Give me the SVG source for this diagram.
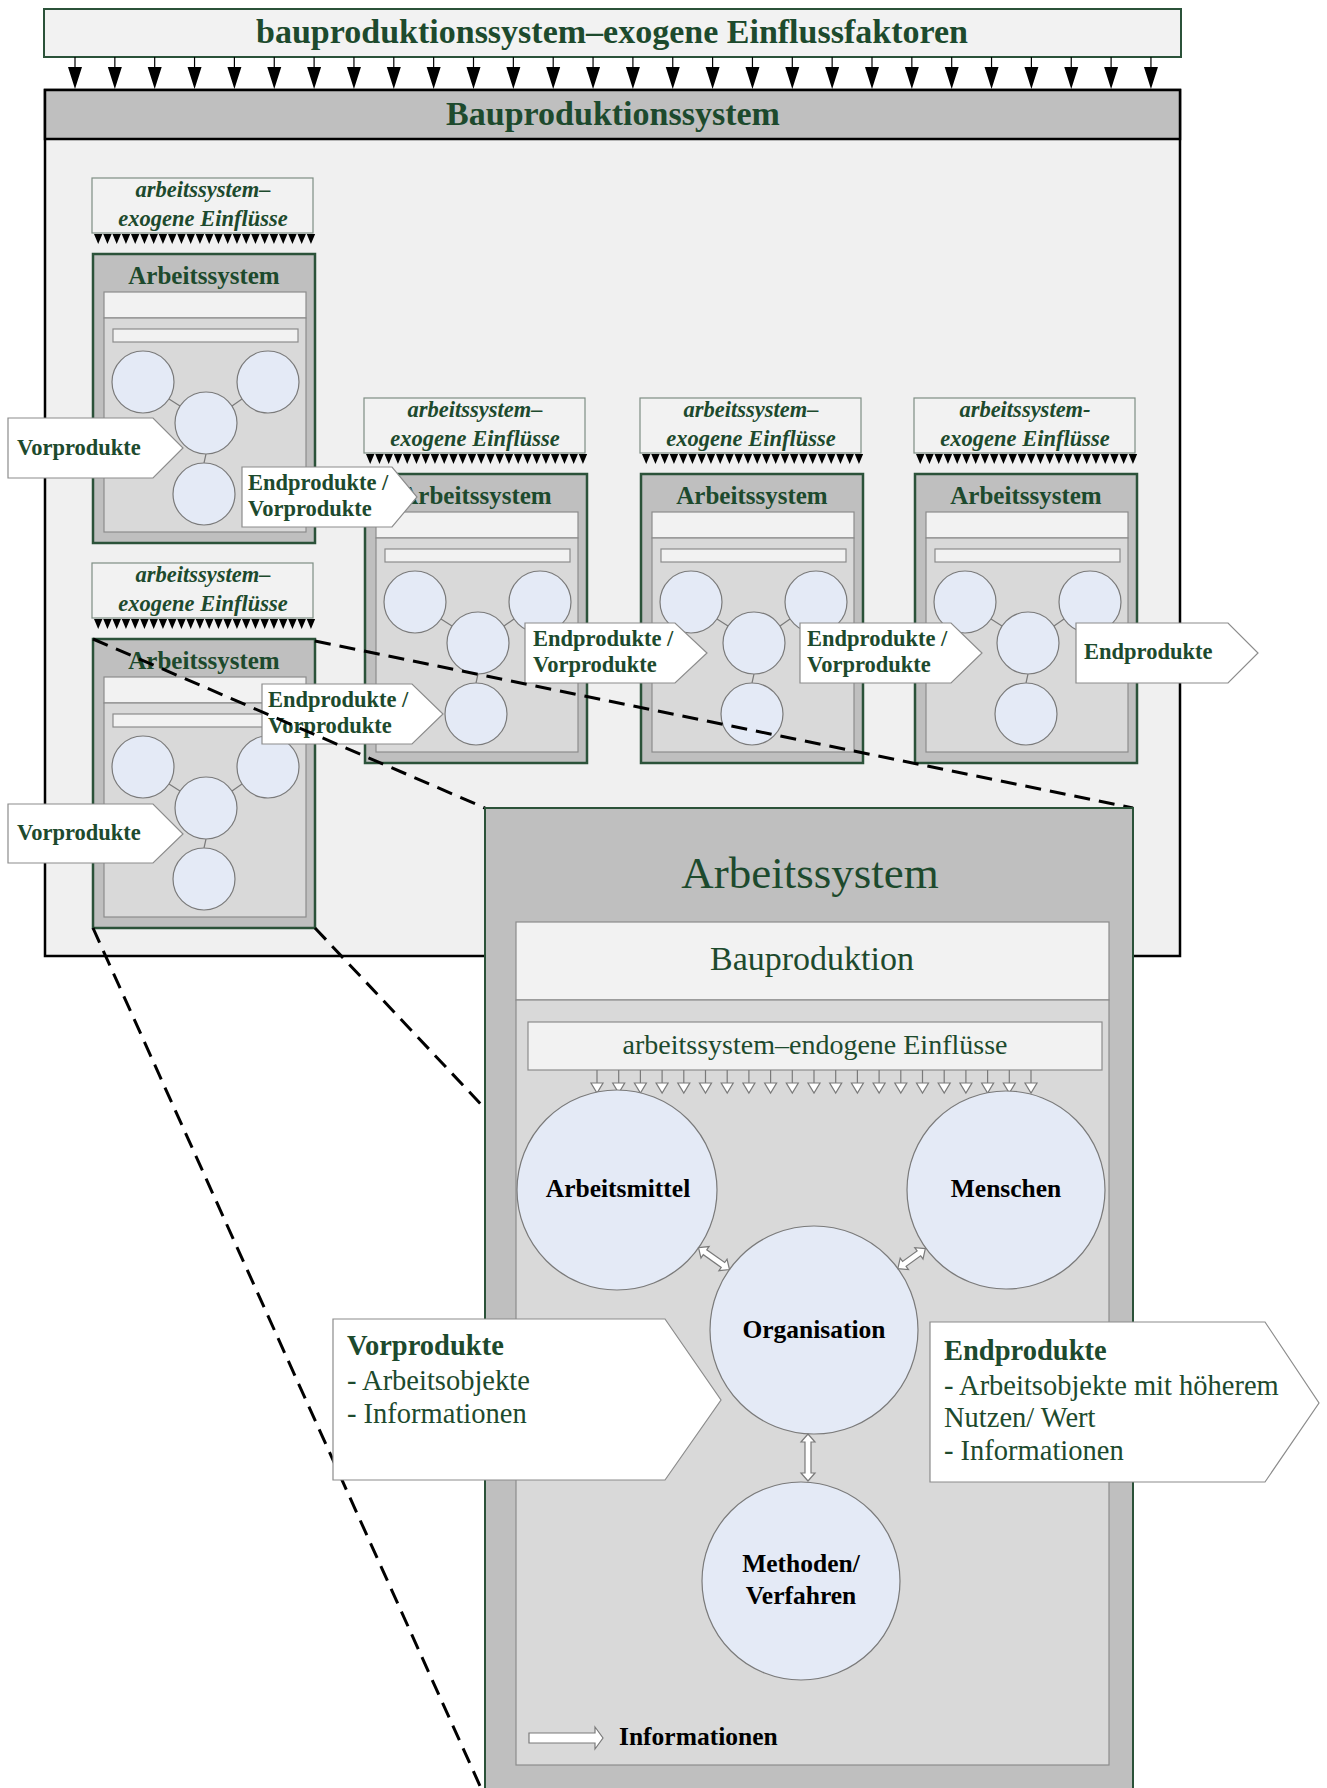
<svg xmlns="http://www.w3.org/2000/svg" width="1327" height="1788" viewBox="0 0 1327 1788">
<style>
text{font-family:'Liberation Serif','Times New Roman',serif}
.gt{fill:#1d4a2d}
.t1{font-size:34px;font-weight:bold;fill:#1d4a2d;text-anchor:middle}
.te{font-size:22.5px;font-weight:bold;font-style:italic;fill:#1d4a2d;text-anchor:middle}
.ta{font-size:25px;font-weight:bold;fill:#1d4a2d;text-anchor:middle}
.tl{font-size:22.5px;font-weight:bold;fill:#1d4a2d}
.tc{font-size:25.5px;font-weight:bold;fill:#000;text-anchor:middle}
.tb{font-size:28.5px;fill:#1d4a2d}
.tbb{font-size:28.5px;font-weight:bold;fill:#1d4a2d}
.exo{fill:#f2f2f2;stroke:#7e8e84;stroke-width:1.2}
.as{fill:#bfbfbf;stroke:#2b5239;stroke-width:2.5}
.lt{fill:#f2f2f2;stroke:#8c8c8c;stroke-width:1.2}
.in{fill:#d9d9d9;stroke:#8c8c8c;stroke-width:1.2}
.c{fill:#e4eaf6;stroke:#7a7a7a;stroke-width:1.2}
.cl{stroke:#7a7a7a;stroke-width:1.2;fill:none}
.tri{fill:#000}
.ar{fill:#fff;stroke:#8c8c8c;stroke-width:1.2}
.da{fill:#fff;stroke:#7a7a7a;stroke-width:1.2}
.dash{stroke:#000;stroke-width:3;stroke-dasharray:16 9;fill:none}
</style>

<g id="top-influences">
<rect x="44" y="9" width="1137" height="48" fill="#f2f2f2" stroke="#2b5239" stroke-width="2"/>
<text class="t1" x="612" y="43">bauproduktionssystem–exogene Einflussfaktoren</text>
<path stroke="#000" stroke-width="1.2" d="M75,57v10m39.85,-10v10m39.85,-10v10m39.85,-10v10m39.85,-10v10m39.85,-10v10m39.85,-10v10m39.85,-10v10m39.85,-10v10m39.85,-10v10m39.85,-10v10m39.85,-10v10m39.85,-10v10m39.85,-10v10m39.85,-10v10m39.85,-10v10m39.85,-10v10m39.85,-10v10m39.85,-10v10m39.85,-10v10m39.85,-10v10m39.85,-10v10m39.85,-10v10m39.85,-10v10m39.85,-10v10m39.85,-10v10m39.85,-10v10m39.85,-10v10"/>
<path class="tri" d="M68,67h14l-7,22z m39.85,0h14l-7,22z m39.85,0h14l-7,22z m39.85,0h14l-7,22z m39.85,0h14l-7,22z m39.85,0h14l-7,22z m39.85,0h14l-7,22z m39.85,0h14l-7,22z m39.85,0h14l-7,22z m39.85,0h14l-7,22z m39.85,0h14l-7,22z m39.85,0h14l-7,22z m39.85,0h14l-7,22z m39.85,0h14l-7,22z m39.85,0h14l-7,22z m39.85,0h14l-7,22z m39.85,0h14l-7,22z m39.85,0h14l-7,22z m39.85,0h14l-7,22z m39.85,0h14l-7,22z m39.85,0h14l-7,22z m39.85,0h14l-7,22z m39.85,0h14l-7,22z m39.85,0h14l-7,22z m39.85,0h14l-7,22z m39.85,0h14l-7,22z m39.85,0h14l-7,22z m39.85,0h14l-7,22z"/>
</g>

<g id="bauproduktionssystem">
<rect x="45" y="90" width="1135" height="866" fill="#f0f0f0" stroke="#000" stroke-width="2.5"/>
<rect x="45" y="90" width="1135" height="49" fill="#bfbfbf" stroke="#000" stroke-width="2.5"/>
<text class="t1" x="613" y="125">Bauproduktionssystem</text>
</g>

<g id="exo1" transform="translate(93,254)">
<rect class="exo" x="-1" y="-76" width="221" height="55"/>
<text class="te" x="110" y="-57">arbeitssystem–</text>
<text class="te" x="110" y="-28">exogene Einflüsse</text>
<path class="tri" d="M1,-20h8.4l-4.2,10z m9.25,0h8.4l-4.2,10z m9.25,0h8.4l-4.2,10z m9.25,0h8.4l-4.2,10z m9.25,0h8.4l-4.2,10z m9.25,0h8.4l-4.2,10z m9.25,0h8.4l-4.2,10z m9.25,0h8.4l-4.2,10z m9.25,0h8.4l-4.2,10z m9.25,0h8.4l-4.2,10z m9.25,0h8.4l-4.2,10z m9.25,0h8.4l-4.2,10z m9.25,0h8.4l-4.2,10z m9.25,0h8.4l-4.2,10z m9.25,0h8.4l-4.2,10z m9.25,0h8.4l-4.2,10z m9.25,0h8.4l-4.2,10z m9.25,0h8.4l-4.2,10z m9.25,0h8.4l-4.2,10z m9.25,0h8.4l-4.2,10z m9.25,0h8.4l-4.2,10z m9.25,0h8.4l-4.2,10z m9.25,0h8.4l-4.2,10z m9.25,0h8.4l-4.2,10z"/>
</g>
<g id="as1" transform="translate(93,254)">
<rect class="as" width="222" height="289"/>
<text class="ta" x="111" y="30">Arbeitssystem</text>
<rect class="lt" x="11" y="38" width="202" height="26"/>
<rect class="in" x="11" y="64" width="202" height="214"/>
<rect class="lt" x="20" y="75" width="185" height="13"/>
<path class="cl" d="M76,145L87,152M149,145L139,152M113,200L111,209"/>
<circle class="c" cx="50" cy="128" r="31"/><circle class="c" cx="175" cy="128" r="31"/><circle class="c" cx="113" cy="169" r="31"/><circle class="c" cx="111" cy="240" r="31"/>
</g>

<g id="exo2" transform="translate(365,474)">
<rect class="exo" x="-1" y="-76" width="221" height="55"/>
<text class="te" x="110" y="-57">arbeitssystem–</text>
<text class="te" x="110" y="-28">exogene Einflüsse</text>
<path class="tri" d="M1,-20h8.4l-4.2,10z m9.25,0h8.4l-4.2,10z m9.25,0h8.4l-4.2,10z m9.25,0h8.4l-4.2,10z m9.25,0h8.4l-4.2,10z m9.25,0h8.4l-4.2,10z m9.25,0h8.4l-4.2,10z m9.25,0h8.4l-4.2,10z m9.25,0h8.4l-4.2,10z m9.25,0h8.4l-4.2,10z m9.25,0h8.4l-4.2,10z m9.25,0h8.4l-4.2,10z m9.25,0h8.4l-4.2,10z m9.25,0h8.4l-4.2,10z m9.25,0h8.4l-4.2,10z m9.25,0h8.4l-4.2,10z m9.25,0h8.4l-4.2,10z m9.25,0h8.4l-4.2,10z m9.25,0h8.4l-4.2,10z m9.25,0h8.4l-4.2,10z m9.25,0h8.4l-4.2,10z m9.25,0h8.4l-4.2,10z m9.25,0h8.4l-4.2,10z m9.25,0h8.4l-4.2,10z"/>
</g>
<g id="as2" transform="translate(365,474)">
<rect class="as" width="222" height="289"/>
<text class="ta" x="111" y="30">Arbeitssystem</text>
<rect class="lt" x="11" y="38" width="202" height="26"/>
<rect class="in" x="11" y="64" width="202" height="214"/>
<rect class="lt" x="20" y="75" width="185" height="13"/>
<path class="cl" d="M76,145L87,152M149,145L139,152M113,200L111,209"/>
<circle class="c" cx="50" cy="128" r="31"/><circle class="c" cx="175" cy="128" r="31"/><circle class="c" cx="113" cy="169" r="31"/><circle class="c" cx="111" cy="240" r="31"/>
</g>

<g id="exo3" transform="translate(641,474)">
<rect class="exo" x="-1" y="-76" width="221" height="55"/>
<text class="te" x="110" y="-57">arbeitssystem–</text>
<text class="te" x="110" y="-28">exogene Einflüsse</text>
<path class="tri" d="M1,-20h8.4l-4.2,10z m9.25,0h8.4l-4.2,10z m9.25,0h8.4l-4.2,10z m9.25,0h8.4l-4.2,10z m9.25,0h8.4l-4.2,10z m9.25,0h8.4l-4.2,10z m9.25,0h8.4l-4.2,10z m9.25,0h8.4l-4.2,10z m9.25,0h8.4l-4.2,10z m9.25,0h8.4l-4.2,10z m9.25,0h8.4l-4.2,10z m9.25,0h8.4l-4.2,10z m9.25,0h8.4l-4.2,10z m9.25,0h8.4l-4.2,10z m9.25,0h8.4l-4.2,10z m9.25,0h8.4l-4.2,10z m9.25,0h8.4l-4.2,10z m9.25,0h8.4l-4.2,10z m9.25,0h8.4l-4.2,10z m9.25,0h8.4l-4.2,10z m9.25,0h8.4l-4.2,10z m9.25,0h8.4l-4.2,10z m9.25,0h8.4l-4.2,10z m9.25,0h8.4l-4.2,10z"/>
</g>
<g id="as3" transform="translate(641,474)">
<rect class="as" width="222" height="289"/>
<text class="ta" x="111" y="30">Arbeitssystem</text>
<rect class="lt" x="11" y="38" width="202" height="26"/>
<rect class="in" x="11" y="64" width="202" height="214"/>
<rect class="lt" x="20" y="75" width="185" height="13"/>
<path class="cl" d="M76,145L87,152M149,145L139,152M113,200L111,209"/>
<circle class="c" cx="50" cy="128" r="31"/><circle class="c" cx="175" cy="128" r="31"/><circle class="c" cx="113" cy="169" r="31"/><circle class="c" cx="111" cy="240" r="31"/>
</g>

<g id="exo4" transform="translate(915,474)">
<rect class="exo" x="-1" y="-76" width="221" height="55"/>
<text class="te" x="110" y="-57">arbeitssystem-</text>
<text class="te" x="110" y="-28">exogene Einflüsse</text>
<path class="tri" d="M1,-20h8.4l-4.2,10z m9.25,0h8.4l-4.2,10z m9.25,0h8.4l-4.2,10z m9.25,0h8.4l-4.2,10z m9.25,0h8.4l-4.2,10z m9.25,0h8.4l-4.2,10z m9.25,0h8.4l-4.2,10z m9.25,0h8.4l-4.2,10z m9.25,0h8.4l-4.2,10z m9.25,0h8.4l-4.2,10z m9.25,0h8.4l-4.2,10z m9.25,0h8.4l-4.2,10z m9.25,0h8.4l-4.2,10z m9.25,0h8.4l-4.2,10z m9.25,0h8.4l-4.2,10z m9.25,0h8.4l-4.2,10z m9.25,0h8.4l-4.2,10z m9.25,0h8.4l-4.2,10z m9.25,0h8.4l-4.2,10z m9.25,0h8.4l-4.2,10z m9.25,0h8.4l-4.2,10z m9.25,0h8.4l-4.2,10z m9.25,0h8.4l-4.2,10z m9.25,0h8.4l-4.2,10z"/>
</g>
<g id="as4" transform="translate(915,474)">
<rect class="as" width="222" height="289"/>
<text class="ta" x="111" y="30">Arbeitssystem</text>
<rect class="lt" x="11" y="38" width="202" height="26"/>
<rect class="in" x="11" y="64" width="202" height="214"/>
<rect class="lt" x="20" y="75" width="185" height="13"/>
<path class="cl" d="M76,145L87,152M149,145L139,152M113,200L111,209"/>
<circle class="c" cx="50" cy="128" r="31"/><circle class="c" cx="175" cy="128" r="31"/><circle class="c" cx="113" cy="169" r="31"/><circle class="c" cx="111" cy="240" r="31"/>
</g>

<g id="exo5" transform="translate(93,639)">
<rect class="exo" x="-1" y="-76" width="221" height="55"/>
<text class="te" x="110" y="-57">arbeitssystem–</text>
<text class="te" x="110" y="-28">exogene Einflüsse</text>
<path class="tri" d="M1,-20h8.4l-4.2,10z m9.25,0h8.4l-4.2,10z m9.25,0h8.4l-4.2,10z m9.25,0h8.4l-4.2,10z m9.25,0h8.4l-4.2,10z m9.25,0h8.4l-4.2,10z m9.25,0h8.4l-4.2,10z m9.25,0h8.4l-4.2,10z m9.25,0h8.4l-4.2,10z m9.25,0h8.4l-4.2,10z m9.25,0h8.4l-4.2,10z m9.25,0h8.4l-4.2,10z m9.25,0h8.4l-4.2,10z m9.25,0h8.4l-4.2,10z m9.25,0h8.4l-4.2,10z m9.25,0h8.4l-4.2,10z m9.25,0h8.4l-4.2,10z m9.25,0h8.4l-4.2,10z m9.25,0h8.4l-4.2,10z m9.25,0h8.4l-4.2,10z m9.25,0h8.4l-4.2,10z m9.25,0h8.4l-4.2,10z m9.25,0h8.4l-4.2,10z m9.25,0h8.4l-4.2,10z"/>
</g>
<g id="as5" transform="translate(93,639)">
<rect class="as" width="222" height="289"/>
<text class="ta" x="111" y="30">Arbeitssystem</text>
<rect class="lt" x="11" y="38" width="202" height="26"/>
<rect class="in" x="11" y="64" width="202" height="214"/>
<rect class="lt" x="20" y="75" width="185" height="13"/>
<path class="cl" d="M76,145L87,152M149,145L139,152M113,200L111,209"/>
<circle class="c" cx="50" cy="128" r="31"/><circle class="c" cx="175" cy="128" r="31"/><circle class="c" cx="113" cy="169" r="31"/><circle class="c" cx="111" cy="240" r="31"/>
</g>

<g id="flow-vor1">
<polygon class="ar" points="8,418 153,418 183,448 153,478 8,478"/>
<text class="tl" x="17" y="455">Vorprodukte</text>
</g>
<g id="flow-ep1">
<polygon class="ar" points="242,467 392,467 417,497 392,527 242,527"/>
<text class="tl" x="248" y="490">Endprodukte /</text>
<text class="tl" x="248" y="516">Vorprodukte</text>
</g>
<g id="flow-ep2">
<polygon class="ar" points="525,623 675,623 707,653 675,683 525,683"/>
<text class="tl" x="533" y="646">Endprodukte /</text>
<text class="tl" x="533" y="672">Vorprodukte</text>
</g>
<g id="flow-ep3">
<polygon class="ar" points="800,623 951,623 982,653 951,683 800,683"/>
<text class="tl" x="807" y="646">Endprodukte /</text>
<text class="tl" x="807" y="672">Vorprodukte</text>
</g>
<g id="flow-end">
<polygon class="ar" points="1076,623 1228,623 1258,653 1228,683 1076,683"/>
<text class="tl" x="1084" y="659">Endprodukte</text>
</g>
<g id="flow-ep4">
<polygon class="ar" points="262,684 412,684 443,714 412,744 262,744"/>
<text class="tl" x="268" y="707">Endprodukte /</text>
<text class="tl" x="268" y="733">Vorprodukte</text>
</g>
<g id="flow-vor2">
<polygon class="ar" points="8,804 153,804 183,834 153,863 8,863"/>
<text class="tl" x="17" y="840">Vorprodukte</text>
</g>

<g id="connectors">
<path class="dash" d="M93,639L485,808"/>
<path class="dash" d="M315,641L1133,808"/>
<path class="dash" d="M93,928L485,1797"/>
<path class="dash" d="M315,928L1133,1797"/>
</g>

<g id="arbeitssystem-detail">
<rect x="485" y="808" width="648" height="990" fill="#bfbfbf" stroke="#2b5239" stroke-width="2"/>
<text x="810" y="888" font-size="45" fill="#1d4a2d" text-anchor="middle">Arbeitssystem</text>
<rect class="lt" x="516" y="922" width="593" height="78"/>
<text x="812" y="970" font-size="34" fill="#1d4a2d" text-anchor="middle">Bauproduktion</text>
<rect class="in" x="516" y="1000" width="593" height="765"/>
</g>

<g id="endogene">
<rect class="lt" x="528" y="1022" width="574" height="48"/>
<text x="815" y="1054" font-size="28" fill="#1d4a2d" text-anchor="middle">arbeitssystem–endogene Einflüsse</text>
<path stroke="#7a7a7a" stroke-width="1.2" d="M597,1070v13m21.7,-13v13m21.7,-13v13m21.7,-13v13m21.7,-13v13m21.7,-13v13m21.7,-13v13m21.7,-13v13m21.7,-13v13m21.7,-13v13m21.7,-13v13m21.7,-13v13m21.7,-13v13m21.7,-13v13m21.7,-13v13m21.7,-13v13m21.7,-13v13m21.7,-13v13m21.7,-13v13m21.7,-13v13m21.7,-13v13"/>
<path fill="#fff" stroke="#7a7a7a" stroke-width="1.2" d="M591,1083h12l-6,10z m21.7,0h12l-6,10z m21.7,0h12l-6,10z m21.7,0h12l-6,10z m21.7,0h12l-6,10z m21.7,0h12l-6,10z m21.7,0h12l-6,10z m21.7,0h12l-6,10z m21.7,0h12l-6,10z m21.7,0h12l-6,10z m21.7,0h12l-6,10z m21.7,0h12l-6,10z m21.7,0h12l-6,10z m21.7,0h12l-6,10z m21.7,0h12l-6,10z m21.7,0h12l-6,10z m21.7,0h12l-6,10z m21.7,0h12l-6,10z m21.7,0h12l-6,10z m21.7,0h12l-6,10z m21.7,0h12l-6,10z"/>
</g>

<g id="arbeitsmittel">
<circle class="c" cx="617" cy="1190" r="100"/>
<text class="tc" x="618" y="1197">Arbeitsmittel</text>
</g>
<g id="menschen">
<circle class="c" cx="1006" cy="1190" r="99"/>
<text class="tc" x="1006" y="1197">Menschen</text>
</g>
<g id="organisation">
<circle class="c" cx="814" cy="1330" r="104"/>
<text class="tc" x="814" y="1338">Organisation</text>
</g>
<g id="methoden">
<circle class="c" cx="801" cy="1581" r="99"/>
<text class="tc" x="801" y="1572">Methoden/</text>
<text class="tc" x="801" y="1604">Verfahren</text>
</g>

<g id="info-arrows">
<polygon class="da" transform="translate(714,1258.6) rotate(35.3)" points="-19,0 -11,-7 -11,-3 11,-3 11,-7 19,0 11,7 11,3 -11,3 -11,7"/>
<polygon class="da" transform="translate(911.6,1258.6) rotate(-36)" points="-17,0 -9,-7 -9,-3 9,-3 9,-7 17,0 9,7 9,3 -9,3 -9,7"/>
<polygon class="da" transform="translate(808,1457.5) rotate(90)" points="-23.5,0 -15.5,-7 -15.5,-3 15.5,-3 15.5,-7 23.5,0 15.5,7 15.5,3 -15.5,3 -15.5,7"/>
</g>

<g id="vorprodukte-big">
<polygon class="ar" points="333,1319 665,1319 721,1400 665,1480 333,1480"/>
<text class="tbb" x="347" y="1355">Vorprodukte</text>
<text class="tb" x="347" y="1390">- Arbeitsobjekte</text>
<text class="tb" x="347" y="1423">- Informationen</text>
</g>
<g id="endprodukte-big">
<polygon class="ar" points="930,1322 1265,1322 1319,1403 1265,1482 930,1482"/>
<text class="tbb" x="944" y="1360">Endprodukte</text>
<text class="tb" x="944" y="1395">- Arbeitsobjekte mit höherem</text>
<text class="tb" x="944" y="1427">Nutzen/ Wert</text>
<text class="tb" x="944" y="1460">- Informationen</text>
</g>

<g id="legend">
<polygon class="da" points="529,1733 595,1733 595,1727 603,1738 595,1749 595,1743 529,1743"/>
<text class="tc" x="619" y="1745" text-anchor="start" style="text-anchor:start">Informationen</text>
</g>
</svg>
